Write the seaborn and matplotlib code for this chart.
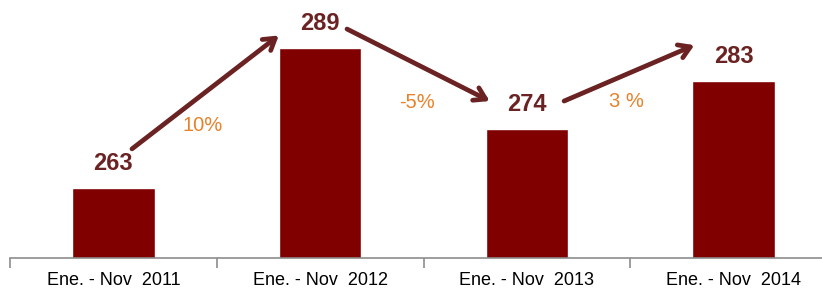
import seaborn as sns
import matplotlib.pyplot as plt
import pandas as pd

# values
periods = ["Ene. - Nov  2011", "Ene. - Nov  2012", "Ene. - Nov  2013", "Ene. - Nov  2014"]
totals = [263, 289, 274, 283]
changes = ["10%", "-5%", "3 %"]

df = pd.DataFrame({"period": periods, "total": totals})

sns.set_style("white")
plt.rcParams["font.family"] = ["Liberation Sans", "DejaVu Sans"]

bar_color = "#800000"
arrow_color = "#6B2222"
pct_color = "#E8822A"

fig = plt.figure(figsize=(8.22, 2.88), dpi=100)
ax = fig.add_axes([10 / 822, 30 / 288, 827 / 822, 258 / 288])

sns.barplot(data=df, x="period", y="total", color=bar_color, width=0.4,
            saturation=1, ax=ax)
ax.set_ylim(250, 298)
ax.set_xlim(-0.5, 3.5)

# value labels above the bars
for i, v in enumerate(totals):
    ax.text(i, v + 2.4, str(v), ha="center", va="bottom", fontsize=17,
            fontweight="bold", color=arrow_color)

# arrows between labels, with the change in between
starts = [(0.09, 7.3), (0.13, 3.6), (0.18, 5.2)]
ends = [(0.20, 2.4), (0.18, 5.2), (0.19, 6.6)]
pct_pos = [(0.43, 11.7), (0.47, -10.0), (0.48, 5.2)]
for i, txt in enumerate(changes):
    x0, dy0 = starts[i]
    x1, dy1 = ends[i]
    ax.annotate("", xy=(i + 1 - x1, totals[i + 1] + dy1),
                xytext=(i + x0, totals[i] + dy0),
                arrowprops=dict(arrowstyle="->,head_length=0.8,head_width=0.5",
                                color=arrow_color, lw=3.4, shrinkA=0, shrinkB=0))
    px, dy = pct_pos[i]
    ax.text(i + px, totals[i] + dy, txt, ha="center", va="center",
            fontsize=14.5, color=pct_color)

# axis styling: only the baseline with boundary tick marks
sns.despine(ax=ax, left=True, top=True, right=True)
ax.spines["bottom"].set_color("#8C8C8C")
ax.spines["bottom"].set_linewidth(1.2)
ax.set_yticks([])
ax.set_xlabel("")
ax.set_ylabel("")
ax.set_xticks([-0.5, 0.5, 1.5, 2.5, 3.5], minor=True)
ax.tick_params(axis="x", which="minor", length=7, width=1.2, color="#8C8C8C",
               direction="out", bottom=True)
ax.tick_params(axis="x", which="major", length=0, pad=10, labelsize=13,
               labelcolor="black")

fig.savefig("out.png", dpi=100)
